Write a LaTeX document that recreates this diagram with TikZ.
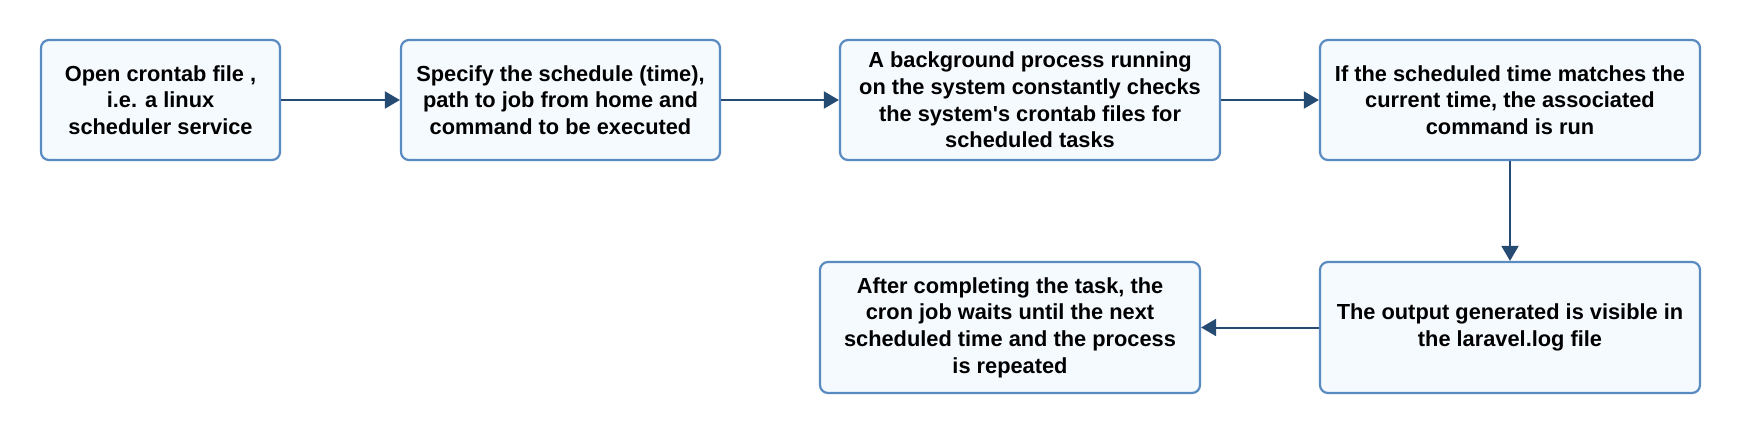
\documentclass[tikz,border=0pt]{standalone}
\usepackage{fontspec}
\setmainfont{Liberation Sans}[Ligatures=TeXOff]
\usetikzlibrary{arrows.meta}
\definecolor{boxline}{HTML}{5A8BC0}
\definecolor{boxfill}{HTML}{F5FAFF}
\definecolor{arrowc}{HTML}{254B73}
\tikzset{
  stepbox/.style={draw=boxline, fill=boxfill, line width=2.2pt, rounded corners=8pt,
    align=center, inner sep=0pt, font=\fontsize{21.8}{26.6}\selectfont\bfseries},
  flow/.style={draw=arrowc, line width=2pt, -{Triangle[length=15pt,width=17pt]}}
}
\begin{document}
\begin{tikzpicture}[x=1pt,y=-1pt]
\useasboundingbox (0,0) rectangle (1740,433);
\node[stepbox, minimum width=239pt, minimum height=120pt] (b1) at (160.5,100)
  {Open crontab file ,\\i.e. a linux\\scheduler service};
\node[stepbox, minimum width=319pt, minimum height=120pt] (b2) at (560.5,100)
  {Specify the schedule (time),\\path to job from home and\\command to be executed};
\node[stepbox, minimum width=380pt, minimum height=120pt] (b3) at (1030,100)
  {A background process running\\on the system constantly checks\\the system's crontab files for\\scheduled tasks};
\node[stepbox, minimum width=380pt, minimum height=120pt] (b4) at (1510,100)
  {If the scheduled time matches the\\current time, the associated\\command is run};
\node[stepbox, minimum width=380pt, minimum height=131pt] (b5) at (1510,327.5)
  {The output generated is visible in\\the laravel.log file};
\node[stepbox, minimum width=380pt, minimum height=131pt] (b6) at (1010,327.5)
  {After completing the task, the\\cron job waits until the next\\scheduled time and the process\\is repeated};
\draw[flow] (b1.east) -- (b2.west);
\draw[flow] (b2.east) -- (b3.west);
\draw[flow] (b3.east) -- (b4.west);
\draw[flow] (b4.south) -- (b5.north);
\draw[flow] (b5.west) -- (b6.east);
\end{tikzpicture}
\end{document}
